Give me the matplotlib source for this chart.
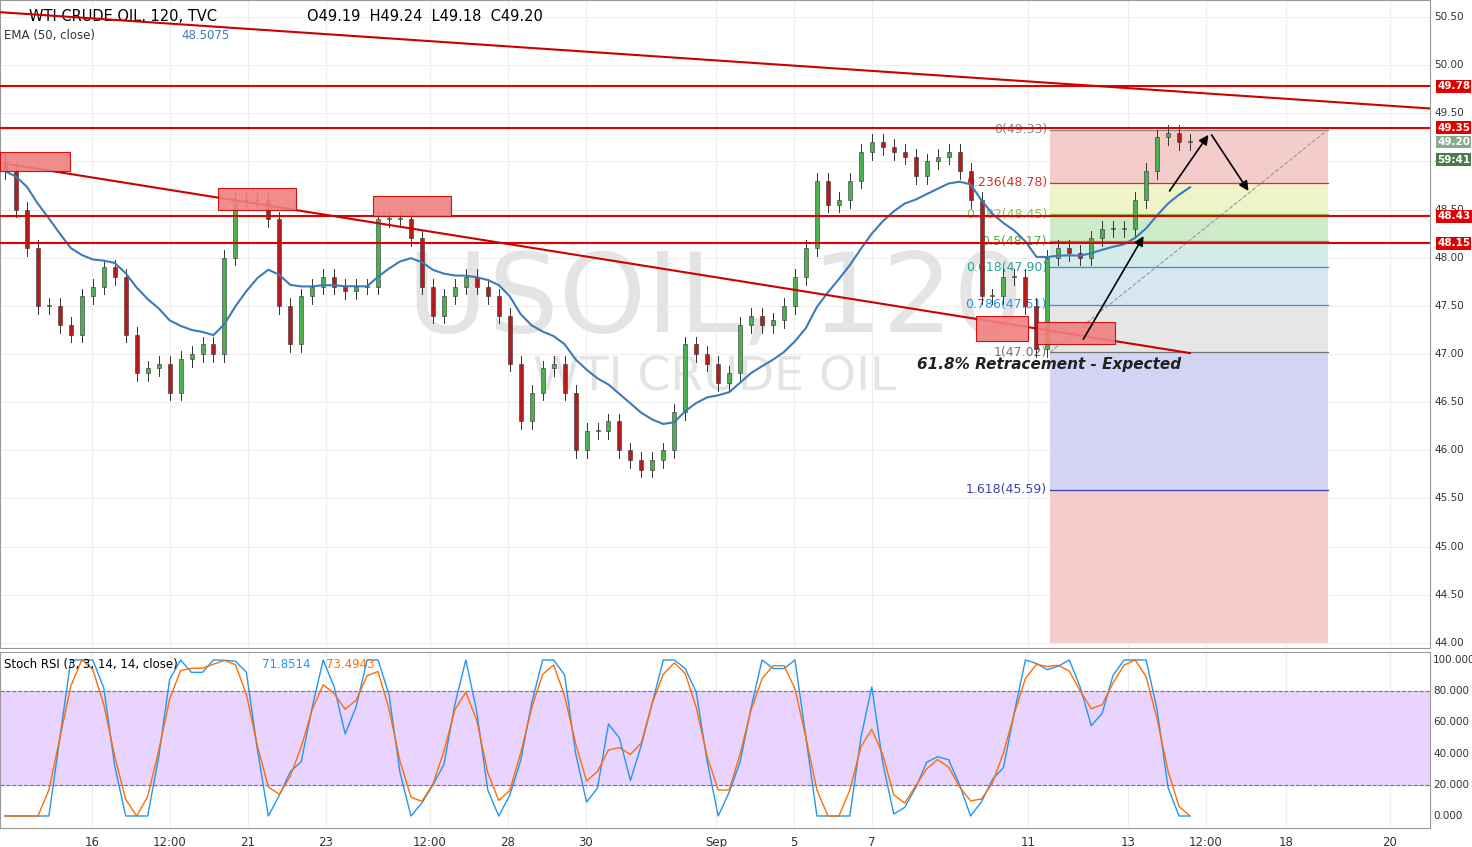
import numpy as np
import matplotlib.pyplot as plt
from matplotlib.patches import Rectangle, FancyArrowPatch

W, H = 1472, 847

# approximate 2h closes (left to right)
closes = [48.9, 48.5, 48.1, 47.5, 47.5, 47.3, 47.2, 47.6, 47.7, 47.9, 47.8, 47.2, 46.8, 46.85,
          46.9, 46.6, 46.95, 47.0, 47.1, 47.0, 48.0, 48.6, 48.6, 48.6, 48.4, 47.5, 47.1, 47.6,
          47.7, 47.8, 47.7, 47.65, 47.7, 47.7, 48.4, 48.4, 48.4, 48.2, 47.7, 47.4, 47.6, 47.7,
          47.8, 47.7, 47.6, 47.4, 46.9, 46.3, 46.6, 46.85, 46.9, 46.6, 46.0, 46.2, 46.2, 46.3,
          46.0, 45.9, 45.8, 45.9, 46.0, 46.4, 47.1, 47.0, 46.9, 46.7, 46.8, 47.3, 47.4, 47.3,
          47.35, 47.5, 47.8, 48.1, 48.8, 48.55, 48.6, 48.8, 49.1, 49.2, 49.15, 49.1, 49.05, 48.85,
          49.0, 49.05, 49.1, 48.9, 48.6, 47.6, 47.6, 47.8, 47.8, 47.5, 47.05, 48.0, 48.1, 48.05,
          48.0, 48.2, 48.3, 48.3, 48.3, 48.6, 48.9, 49.25, 49.3, 49.2, 49.2]
levels = [49.78, 49.35, 48.43, 48.15]
fib_ratio = ["0", "0.236", "0.382", "0.5", "0.618", "0.786", "1", "1.618"]
fib_price = [49.33, 48.78, 48.45, 48.17, 47.90, 47.51, 47.02, 45.59]
fib_col = ["#888888", "#d32f2f", "#8bc34a", "#4caf50", "#26a69a", "#2196f3", "#757575", "#3f3fb0"]
fib_fill = ["#f4cccc", "#eef3c8", "#cdebc9", "#d3ece9", "#d6e6f3", "#e6e6e6", "#d3d3f3", "#f4cccc"]
price_ticks = [44.0, 44.5, 45.0, 45.5, 46.0, 46.5, 47.0, 47.5, 48.0, 48.5, 49.0, 49.5, 50.0, 50.5]
date_labels = ["16", "12:00", "21", "23", "12:00", "28", "30", "Sep", "5", "7", "11", "13", "12:00", "18", "20"]
date_pos = [92, 170, 248, 326, 430, 508, 586, 716, 794, 872, 1028, 1128, 1206, 1286, 1390]

n = len(closes)
xs = np.linspace(5, 1190, n)
c = np.array(closes)
o = np.r_[c[0] + 0.1, c[:-1]]

fig = plt.figure(figsize=(W / 100, H / 100), dpi=100)
fig.patch.set_facecolor("white")
ax = fig.add_axes([0, 199 / H, 1430 / W, 648 / H])
rx = fig.add_axes([0, 19 / H, 1430 / W, 176 / H], sharex=ax)

ax.set_xlim(0, 1430)
ax.set_ylim(50.5 - (648 - 17) / 96.3, 50.5 + 17 / 96.3)
for a in (ax, rx):
    a.tick_params(left=False, bottom=False, labelleft=False, labelbottom=False)
    for s in a.spines.values():
        s.set_color("#999999")
for p in price_ticks:
    ax.axhline(p, color="#eeeeee", lw=0.8, zorder=0)
for d in date_pos:
    ax.axvline(d, color="#eeeeee", lw=0.8, zorder=0)
    rx.axvline(d, color="#eeeeee", lw=0.8, zorder=0)

# watermark
ax.text(715, 47.55, "USOIL, 120", fontsize=80, color="#e4e4e4", ha="center", va="center", zorder=0)
ax.text(715, 46.75, "WTI CRUDE OIL", fontsize=34, color="#e4e4e4", ha="center", va="center", zorder=0)

# fib box
x0, x1 = 1050, 1328
bounds = fib_price + [44.0]
for i in range(len(fib_price)):
    ax.add_patch(Rectangle((x0, bounds[i + 1]), x1 - x0, bounds[i] - bounds[i + 1],
                           color=fib_fill[i], lw=0, zorder=1))
    ax.plot([x0, x1], [fib_price[i]] * 2, color=fib_col[i], lw=0.9, zorder=2)
    ax.text(x0 - 3, fib_price[i], f"{fib_ratio[i]}({fib_price[i]:.2f})", color=fib_col[i],
            fontsize=9, ha="right", va="center", zorder=3)
ax.plot([x0, x1], [47.02, 49.33], ls="--", color="#999999", lw=0.8, zorder=2)

# candles
for x, oo, cc in zip(xs, o, c):
    col = "#4caf50" if cc >= oo else "#b71c1c"
    hi, lo = max(oo, cc) + 0.08, min(oo, cc) - 0.08
    ax.plot([x, x], [lo, hi], color="#333333", lw=0.7, zorder=4)
    ax.add_patch(Rectangle((x - 2, min(oo, cc)), 4, max(abs(cc - oo), 0.01),
                           facecolor=col, edgecolor="#333333", lw=0.4, zorder=5))

# EMA 50 (span shortened for these coarser bars)
ema = np.array(closes, dtype=float)
k = 2 / (13 + 1)
for i in range(1, n):
    ema[i] = ema[i - 1] + k * (c[i] - ema[i - 1])
ax.plot(xs, ema, color="#3d7ab8", lw=1.5, zorder=6)

# levels and trend lines
for lv in levels:
    ax.axhline(lv, color="#e00000", lw=1.5, zorder=6)
ax.plot([0, 1430], [50.55, 49.55], color="#cc0000", lw=1.5, zorder=6)
ax.plot([10, 1190], [48.97, 47.01], color="#cc0000", lw=1.5, zorder=6)
for bx, bw, ylo, yhi in [(0, 70, 48.9, 49.1), (218, 78, 48.5, 48.72), (373, 78, 48.43, 48.64),
                          (976, 52, 47.14, 47.39), (1037, 78, 47.1, 47.33)]:
    ax.add_patch(Rectangle((bx, ylo), bw, yhi - ylo, facecolor="#f08080", edgecolor="#cc0000",
                           lw=0.8, alpha=0.9, zorder=7))

for a, b in [((1082, 47.13), (1145, 48.25)), ((1168, 48.67), (1210, 49.3)), ((1210, 49.3), (1250, 48.67))]:
    ax.add_patch(FancyArrowPatch(a, b, arrowstyle="-|>", mutation_scale=14, color="black", lw=1.2, zorder=8))
ax.text(917, 46.84, "61.8% Retracement - Expected", fontsize=11, fontweight="bold",
        fontstyle="italic", color="#222222", zorder=8)

# header text
ax.text(0.02, 0.975, "WTI CRUDE OIL, 120, TVC", transform=ax.transAxes, fontsize=10.5, va="center")
ax.text(0.215, 0.975, "O49.19  H49.24  L49.18  C49.20", transform=ax.transAxes, fontsize=10.5, va="center")
ax.text(0.003, 0.945, "EMA (50, close)", transform=ax.transAxes, fontsize=8.5, va="center", color="#333333")
ax.text(0.127, 0.945, "48.5075", transform=ax.transAxes, fontsize=8.5, va="center", color="#3d7ab8")

# price axis labels
for p in price_ticks:
    ax.text(1434, p, f"{p:.2f}", fontsize=7.5, va="center", ha="left", clip_on=False, color="#333333")
for val, fc in [(49.78, "#e00000"), (49.35, "#e00000"), (48.43, "#e00000"), (48.15, "#e00000"), (49.20, "#8aa88a")]:
    ax.text(1437, val, f"{val:.2f}", fontsize=7.5, va="center", ha="left", color="white", fontweight="bold",
            clip_on=False, bbox=dict(boxstyle="square,pad=0.12", fc=fc, ec="none"))
ax.text(1437, 49.02, "59:41", fontsize=7.5, va="center", ha="left", color="white", fontweight="bold",
        clip_on=False, bbox=dict(boxstyle="square,pad=0.12", fc="#4b7a4b", ec="none"))

# stochastic RSI from closes
d = np.diff(c, prepend=c[0])
up = np.convolve(np.clip(d, 0, None), np.ones(5) / 5, mode="same")
dn = np.convolve(np.clip(-d, 0, None), np.ones(5) / 5, mode="same")
rsi = 100 * up / (up + dn + 1e-9)
st = np.zeros(n)
for i in range(n):
    w = rsi[max(0, i - 5):i + 1]
    st[i] = 100 * (rsi[i] - w.min()) / (w.max() - w.min() + 1e-9)
kline = np.convolve(st, np.ones(2) / 2, mode="same")
dline = np.convolve(kline, np.ones(3) / 3, mode="same")
rx.set_ylim(-7.7, 105.1)
rx.axhspan(20, 80, color="#e6ccff", alpha=0.85, zorder=0)
for lv in (20, 80):
    rx.axhline(lv, color="#777777", ls="--", lw=0.8)
rx.plot(xs, kline, color="#2196f3", lw=1)
rx.plot(xs, dline, color="#ff6d00", lw=1)
rx.text(0.003, 0.93, "Stoch RSI (3, 3, 14, 14, close)", transform=rx.transAxes, fontsize=8.5, va="center")
rx.text(0.183, 0.93, "71.8514", transform=rx.transAxes, fontsize=8.5, va="center", color="#2196f3")
rx.text(0.228, 0.93, "73.4943", transform=rx.transAxes, fontsize=8.5, va="center", color="#ff6d00")
for v in (0, 20, 40, 60, 80, 100):
    rx.text(1433, v, f"{v:.3f}", fontsize=7.5, va="center", clip_on=False, color="#333333")
for lbl, p in zip(date_labels, date_pos):
    rx.text(p, -13, lbl, fontsize=8.5, ha="center", va="top", clip_on=False, color="#333333")

fig.savefig("out.png", dpi=100)
